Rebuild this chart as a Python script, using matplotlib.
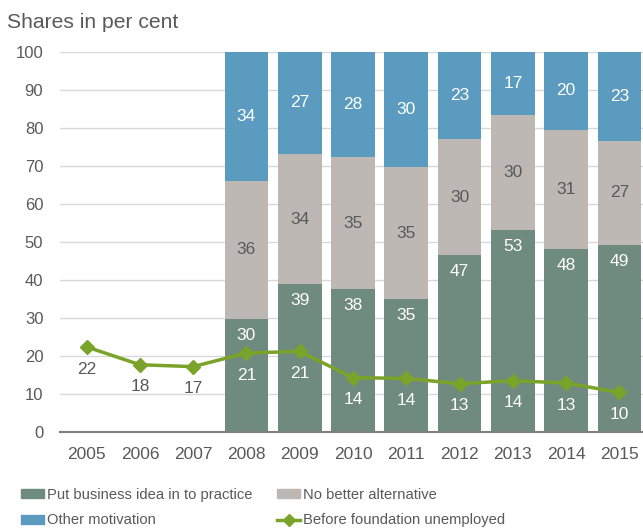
import numpy as np
import matplotlib.pyplot as plt
from matplotlib.patches import Patch
from matplotlib.lines import Line2D

years = ["2005", "2006", "2007", "2008", "2009", "2010", "2011", "2012", "2013", "2014", "2015"]
# stacked shares, only from 2008 on (earlier years have no bars)
idea = [0, 0, 0, 29.7, 38.9, 37.6, 34.9, 46.6, 53.2, 48.2, 49.3]
no_alt = [0, 0, 0, 36.4, 34.3, 34.8, 34.9, 30.4, 30.2, 31.4, 27.4]
other = [0, 0, 0, 33.9, 26.8, 27.6, 30.2, 23.0, 16.6, 20.4, 23.3]
unemployed = [22.4, 17.7, 17.2, 20.8, 21.2, 14.3, 14.1, 12.7, 13.5, 12.9, 10.4]

c_idea = "#6f8a7e"
c_alt = "#bdb8b4"
c_other = "#5b9bbf"
c_line = "#7aa32a"
c_text = "#595959"

plt.rcParams["font.family"] = ["Liberation Sans", "DejaVu Sans"]

fig = plt.figure(figsize=(6.43, 5.30), dpi=100)
ax = fig.add_axes([60 / 643, 98 / 530, 586 / 643, 380 / 530])

x = np.arange(len(years))
idea = np.array(idea)
no_alt = np.array(no_alt)
other = np.array(other)
w = 0.82

ax.bar(x, idea, w, color=c_idea, zorder=2)
ax.bar(x, no_alt, w, bottom=idea, color=c_alt, zorder=2)
ax.bar(x, other, w, bottom=idea + no_alt, color=c_other, zorder=2)

for i in range(len(x)):
    if idea[i] == 0:
        continue
    ax.text(x[i], idea[i] - 4.3, f"{idea[i]:.0f}", ha="center", va="center",
            color="white", fontsize=12.5, zorder=4)
    ax.text(x[i], idea[i] + no_alt[i] / 2, f"{no_alt[i]:.0f}", ha="center",
            va="center", color=c_text, fontsize=12.5, zorder=4)
    ax.text(x[i], idea[i] + no_alt[i] + other[i] / 2, f"{other[i]:.0f}",
            ha="center", va="center", color="white", fontsize=12.5, zorder=4)

ax.plot(x, unemployed, color=c_line, lw=2.5, marker="D", ms=7, zorder=3)
for i in range(len(x)):
    col = "white" if idea[i] > 0 else c_text
    ax.annotate(f"{unemployed[i]:.0f}", (x[i], unemployed[i]), xytext=(0, -16),
                textcoords="offset points", ha="center", va="center",
                color=col, fontsize=12.5, zorder=4)

ax.set_xlim(-0.5, len(years) - 0.5)
ax.set_ylim(0, 100)
ax.set_yticks(range(0, 101, 10))
ax.set_xticks(x)
ax.set_xticklabels(years)
ax.yaxis.grid(True, color="#d9d9d9", lw=1, zorder=0)
ax.set_axisbelow(True)
ax.tick_params(length=0, labelsize=12.5, colors=c_text, pad=11)
ax.tick_params(axis="y", labelsize=12, pad=12)
for s in ["top", "right", "left"]:
    ax.spines[s].set_visible(False)
ax.spines["bottom"].set_color("#7f7f7f")
ax.spines["bottom"].set_linewidth(1.5)
ax.spines["bottom"].set_zorder(5)

fig.text(7 / 643, 1 - 23 / 530, "Shares in per cent", fontsize=15.2, color=c_text,
         va="center", ha="left")

handles = [Patch(color=c_idea), Patch(color=c_alt), Patch(color=c_other),
           Line2D([0], [0], color=c_line, lw=2.5, marker="D", ms=6)]
labels = ["Put business idea in to practice", "No better alternative",
          "Other motivation", "Before foundation unemployed"]
# order so that columns read row-wise
order = [0, 2, 1, 3]
leg = fig.legend([handles[k] for k in order], [labels[k] for k in order], ncol=2,
                 loc="upper left", bbox_to_anchor=(21 / 643, 1 - 488 / 530),
                 frameon=False, fontsize=10.6, handlelength=1.55, handleheight=0.6,
                 handletextpad=0.2, columnspacing=1.7, labelspacing=0.78,
                 labelcolor=c_text, borderaxespad=0, borderpad=0)

fig.savefig("out.png", dpi=100)
